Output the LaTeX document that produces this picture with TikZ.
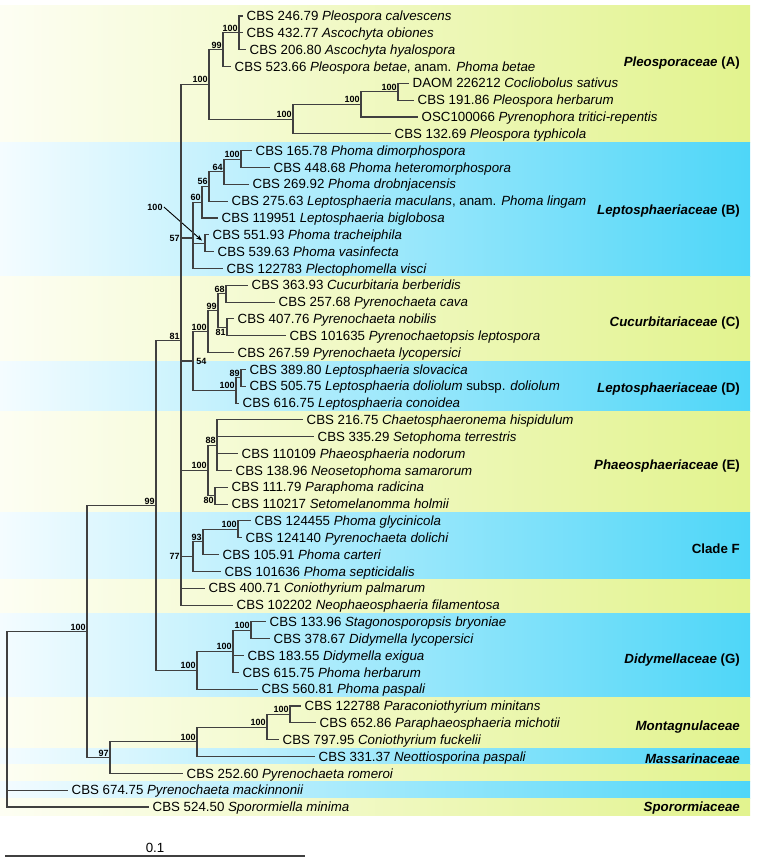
\documentclass[tikz,border=0pt]{standalone}
\usepackage{fontspec}
\setmainfont{Liberation Sans}
\usetikzlibrary{arrows.meta,calc}
\definecolor{yellowL}{RGB}{253,254,243}
\definecolor{yellowR}{RGB}{226,243,142}
\definecolor{blueL}{RGB}{244,252,255}
\definecolor{blueR}{RGB}{78,214,248}

\begin{document}
\begin{tikzpicture}[x=1pt,y=-16.83pt,
    branch/.style={line width=1.1pt,draw=black!75},
    taxon/.style={anchor=west,inner xsep=3.5pt,inner ysep=0pt,text height=9.3pt,text depth=0pt,font=\fontsize{13.3}{15}\selectfont},
    boot/.style={inner sep=1.2pt,font=\fontsize{9}{10}\selectfont\bfseries},
    family/.style={anchor=east,inner sep=0pt,text height=9.3pt,text depth=0pt,font=\fontsize{13.3}{15}\selectfont\bfseries},
    yband/.style={left color=yellowL,right color=yellowR},
    bband/.style={left color=blueL,right color=blueR}]
        \useasboundingbox (0,0.0493) rectangle (756,51.386);
        % coloured bands
        \fill [yband] (0,0.35) rectangle (750,8.5);
        \fill [bband] (0,8.5) rectangle (750,16.5);
        \fill [yband] (0,16.5) rectangle (750,21.5);
        \fill [bband] (0,21.5) rectangle (750,24.5);
        \fill [yband] (0,24.5) rectangle (750,30.5);
        \fill [bband] (0,30.5) rectangle (750,34.5);
        \fill [yband] (0,34.5) rectangle (750,36.5);
        \fill [bband] (0,36.5) rectangle (750,41.5);
        \fill [yband] (0,41.5) rectangle (750,44.5);
        \fill [bband] (0,44.5) rectangle (750,45.5);
        \fill [yband] (0,45.5) rectangle (750,46.5);
        \fill [bband] (0,46.5) rectangle (750,47.5);
        \fill [yband] (0,47.5) rectangle (750,48.5);
        % taxa
        \node (t1) [taxon] at (243,1) {CBS 246.79 \textit{Pleospora calvescens}};
        \node (t2) [taxon] at (243,2) {CBS 432.77 \textit{Ascochyta obiones}};
        \node (t3) [taxon] at (246,3) {CBS 206.80 \textit{Ascochyta hyalospora}};
        \node (t4) [taxon] at (231,4) {CBS 523.66 \textit{Pleospora betae}, anam. \textit{Phoma betae}};
        \node (t5) [taxon] at (409,5) {DAOM 226212 \textit{Cocliobolus sativus}};
        \node (t6) [taxon] at (414,6) {CBS 191.86 \textit{Pleospora herbarum}};
        \node (t7) [taxon] at (418,7) {OSC100066 \textit{Pyrenophora tritici-repentis}};
        \node (t8) [taxon] at (391,8) {CBS 132.69 \textit{Pleospora typhicola}};
        \node (t9) [taxon] at (252,9) {CBS 165.78 \textit{Phoma dimorphospora}};
        \node (t10) [taxon] at (270,10) {CBS 448.68 \textit{Phoma heteromorphospora}};
        \node (t11) [taxon] at (249,11) {CBS 269.92 \textit{Phoma drobnjacensis}};
        \node (t12) [taxon] at (228,12) {CBS 275.63 \textit{Leptosphaeria maculans}, anam. \textit{Phoma lingam}};
        \node (t13) [taxon] at (218,13) {CBS 119951 \textit{Leptosphaeria biglobosa}};
        \node (t14) [taxon] at (209,14) {CBS 551.93 \textit{Phoma tracheiphila}};
        \node (t15) [taxon] at (214,15) {CBS 539.63 \textit{Phoma vasinfecta}};
        \node (t16) [taxon] at (223,16) {CBS 122783 \textit{Plectophomella visci}};
        \node (t17) [taxon] at (248,17) {CBS 363.93 \textit{Cucurbitaria berberidis}};
        \node (t18) [taxon] at (275,18) {CBS 257.68 \textit{Pyrenochaeta cava}};
        \node (t19) [taxon] at (234,19) {CBS 407.76 \textit{Pyrenochaeta nobilis}};
        \node (t20) [taxon] at (286,20) {CBS 101635 \textit{Pyrenochaetopsis leptospora}};
        \node (t21) [taxon] at (234,21) {CBS 267.59 \textit{Pyrenochaeta lycopersici}};
        \node (t22) [taxon] at (246,22) {CBS 389.80 \textit{Leptosphaeria slovacica}};
        \node (t23) [taxon] at (246,23) {CBS 505.75 \textit{Leptosphaeria doliolum} subsp. \textit{doliolum}};
        \node (t24) [taxon] at (239,24) {CBS 616.75 \textit{Leptosphaeria conoidea}};
        \node (t25) [taxon] at (303,25) {CBS 216.75 \textit{Chaetosphaeronema hispidulum}};
        \node (t26) [taxon] at (314,26) {CBS 335.29 \textit{Setophoma terrestris}};
        \node (t27) [taxon] at (238,27) {CBS 110109 \textit{Phaeosphaeria nodorum}};
        \node (t28) [taxon] at (232,28) {CBS 138.96 \textit{Neosetophoma samarorum}};
        \node (t29) [taxon] at (228,29) {CBS 111.79 \textit{Paraphoma radicina}};
        \node (t30) [taxon] at (228,30) {CBS 110217 \textit{Setomelanomma holmii}};
        \node (t31) [taxon] at (251,31) {CBS 124455 \textit{Phoma glycinicola}};
        \node (t32) [taxon] at (242,32) {CBS 124140 \textit{Pyrenochaeta dolichi}};
        \node (t33) [taxon] at (219,33) {CBS 105.91 \textit{Phoma carteri}};
        \node (t34) [taxon] at (221,34) {CBS 101636 \textit{Phoma septicidalis}};
        \node (t35) [taxon] at (205,35) {CBS 400.71 \textit{Coniothyrium palmarum}};
        \node (t36) [taxon] at (233,36) {CBS 102202 \textit{Neophaeosphaeria filamentosa}};
        \node (t37) [taxon] at (266,37) {CBS 133.96 \textit{Stagonosporopsis bryoniae}};
        \node (t38) [taxon] at (270,38) {CBS 378.67 \textit{Didymella lycopersici}};
        \node (t39) [taxon] at (244,39) {CBS 183.55 \textit{Didymella exigua}};
        \node (t40) [taxon] at (239,40) {CBS 615.75 \textit{Phoma herbarum}};
        \node (t41) [taxon] at (258,41) {CBS 560.81 \textit{Phoma paspali}};
        \node (t42) [taxon] at (301,42) {CBS 122788 \textit{Paraconiothyrium minitans}};
        \node (t43) [taxon] at (316,43) {CBS 652.86 \textit{Paraphaeosphaeria michotii}};
        \node (t44) [taxon] at (279,44) {CBS 797.95 \textit{Coniothyrium fuckelii}};
        \node (t45) [taxon] at (315,45) {CBS 331.37 \textit{Neottiosporina paspali}};
        \node (t46) [taxon] at (183,46) {CBS 252.60 \textit{Pyrenochaeta romeroi}};
        \node (t47) [taxon] at (68,47) {CBS 674.75 \textit{Pyrenochaeta mackinnonii}};
        \node (t48) [taxon] at (149,48) {CBS 524.50 \textit{Sporormiella minima}};
        % inner nodes with bootstrap support
        \coordinate [label={[boot]above left:100}] (a1) at (239,2);
        \coordinate [label={[boot]above left:99}] (a2) at (223,3);
        \coordinate [label={[boot]above left:100}] (a3) at (398,5.5);
        \coordinate [label={[boot]above left:100}] (a4) at (361,6.25);
        \coordinate [label={[boot]above left:100}] (a5) at (293,7.125);
        \coordinate [label={[boot]above left:100}] (pleo) at (209,5.06);
        \coordinate [label={[boot]above left:100}] (b1) at (241,9.5);
        \coordinate [label={[boot]above left:64}] (b2) at (224,10.25);
        \coordinate [label={[boot]above left:56}] (b3) at (209,11.125);
        \coordinate [label={[boot]above left:60}] (b4) at (202,12.06);
        \coordinate (b5) at (205,14.5);
        \coordinate (lepB) at (193,14.19);
        \coordinate [label={[boot]above left:68}] (c1) at (226,17.5);
        \coordinate [label={[boot]below left:81}] (c2) at (227,19.5);
        \coordinate [label={[boot]above left:99}] (c3) at (218,18.5);
        \coordinate [label={[boot]above left:100}] (c4) at (208,19.75);
        \coordinate [label={[boot]above left:89}] (d1) at (241,22.5);
        \coordinate [label={[boot]above left:100}] (d2) at (236,23.25);
        \coordinate [label={[boot,label distance=2pt]right:54}] (cd) at (193,21.5);
        \coordinate [label={[boot]above left:88}] (e1) at (217,26.5);
        \coordinate [label={[boot]below left:80}] (e2) at (215,29.5);
        \coordinate [label={[boot]above left:100}] (e3) at (208,28);
        \coordinate [label={[boot]above left:100}] (f1) at (238,31.5);
        \coordinate [label={[boot]above left:93}] (f2) at (203,32.25);
        \coordinate (f3) at (193,33.125);
        \coordinate [label={[boot]above left:81}] (n81) at (181,20.3);
        \coordinate [label={[boot]above left:100}] (g1) at (251,37.5);
        \coordinate [label={[boot]above left:100}] (g2) at (233,38.75);
        \coordinate [label={[boot]above left:100}] (g3) at (197,39.875);
        \coordinate [label={[boot]above left:99}] (n99) at (156,30.09);
        \coordinate [label={[boot]above left:100}] (m1) at (290,42.5);
        \coordinate [label={[boot]above left:100}] (m2) at (267,43.25);
        \coordinate [label={[boot]above left:100}] (m3) at (197,44.125);
        \coordinate [label={[boot]above left:97}] (n97) at (110,45.06);
        \coordinate [label={[boot]above left:100}] (n100) at (87,37.58);
        \coordinate (root) at (7,42);
        \node (bs57) [boot,left] at (n81 |- lepB) {57};
        \node (bs77) [boot,left] at (n81 |- f3) {77};
        \node (bs100) [boot] at (155,12.35) {100};
        \draw [-{Stealth[length=6pt,width=4.5pt]},line width=0.9pt,shorten >=4pt] (bs100.east) -- (b5);
        % branches
        \draw [branch] (a1) |- (t1.west) (a1) |- (t2.west) (a1) |- (t3.west);
        \draw [branch] (a2) |- (a1) (a2) |- (t4.west);
        \draw [branch] (a3) |- (t5.west) (a3) |- (t6.west);
        \draw [branch] (a4) |- (a3) (a4) |- (t7.west);
        \draw [branch] (a5) |- (a4) (a5) |- (t8.west);
        \draw [branch] (pleo) |- (a2) (pleo) |- (a5);
        \draw [branch] (b1) |- (t9.west) (b1) |- (t10.west);
        \draw [branch] (b2) |- (b1) (b2) |- (t11.west);
        \draw [branch] (b3) |- (b2) (b3) |- (t12.west);
        \draw [branch] (b4) |- (b3) (b4) |- (t13.west);
        \draw [branch] (b5) |- (t14.west) (b5) |- (t15.west);
        \draw [branch] (lepB) |- (b4) (lepB) |- (b5) (lepB) |- (t16.west);
        \draw [branch] (c1) |- (t17.west) (c1) |- (t18.west);
        \draw [branch] (c2) |- (t19.west) (c2) |- (t20.west);
        \draw [branch] (c3) |- (c1) (c3) |- (c2);
        \draw [branch] (c4) |- (c3) (c4) |- (t21.west);
        \draw [branch] (d1) |- (t22.west) (d1) |- (t23.west);
        \draw [branch] (d2) |- (d1) (d2) |- (t24.west);
        \draw [branch] (cd) |- (c4) (cd) |- (d2);
        \draw [branch] (e1) |- (t25.west) (e1) |- (t26.west) (e1) |- (t27.west) (e1) |- (t28.west);
        \draw [branch] (e2) |- (t29.west) (e2) |- (t30.west);
        \draw [branch] (e3) |- (e1) (e3) |- (e2);
        \draw [branch] (f1) |- (t31.west) (f1) |- (t32.west);
        \draw [branch] (f2) |- (f1) (f2) |- (t33.west);
        \draw [branch] (f3) |- (f2) (f3) |- (t34.west);
        \draw [branch] (n81) |- (pleo) (n81) |- (lepB) (n81) |- (cd) (n81) |- (e3) (n81) |- (f3) (n81) |- (t35.west) (n81) |- (t36.west);
        \draw [branch] (g1) |- (t37.west) (g1) |- (t38.west);
        \draw [branch] (g2) |- (g1) (g2) |- (t39.west) (g2) |- (t40.west);
        \draw [branch] (g3) |- (g2) (g3) |- (t41.west);
        \draw [branch] (n99) |- (n81) (n99) |- (g3);
        \draw [branch] (m1) |- (t42.west) (m1) |- (t43.west);
        \draw [branch] (m2) |- (m1) (m2) |- (t44.west);
        \draw [branch] (m3) |- (m2) (m3) |- (t45.west);
        \draw [branch] (n97) |- (m3) (n97) |- (t46.west);
        \draw [branch] (n100) |- (n99) (n100) |- (n97);
        \draw [branch] (root) |- (n100) (root) |- (t47.west) (root) |- (t48.west);
        % families
        \node (famA) [family] at (740,3.73) {\textit{Pleosporaceae} (A)};
        \node (famB) [family] at (740,12.53) {\textit{Leptosphaeriaceae} (B)};
        \node (famC) [family] at (740,19.18) {\textit{Cucurbitariaceae} (C)};
        \node (famD) [family] at (740,23.1) {\textit{Leptosphaeriaceae} (D)};
        \node (famE) [family] at (740,27.68) {\textit{Phaeosphaeriaceae} (E)};
        \node (famF) [family] at (740,32.67) {Clade F};
        \node (famG) [family] at (740,39.2) {\textit{Didymellaceae} (G)};
        \node (famM) [family] at (740,43.19) {\textit{Montagnulaceae}};
        \node (famMa) [family] at (740,45.15) {\textit{Massarinaceae}};
        \node (famS) [family] at (740,48) {\textit{Sporormiaceae}};
        % scale bar
        \coordinate (sb0) at (5,50.91);
        \coordinate (sb1) at (305,50.91);
        \draw [branch] (sb0) -- (sb1);
        \node (sblabel) [taxon,anchor=south,inner ysep=3pt] at ($(sb0)!0.5!(sb1)$) {0.1};
    \end{tikzpicture}
\end{document}
